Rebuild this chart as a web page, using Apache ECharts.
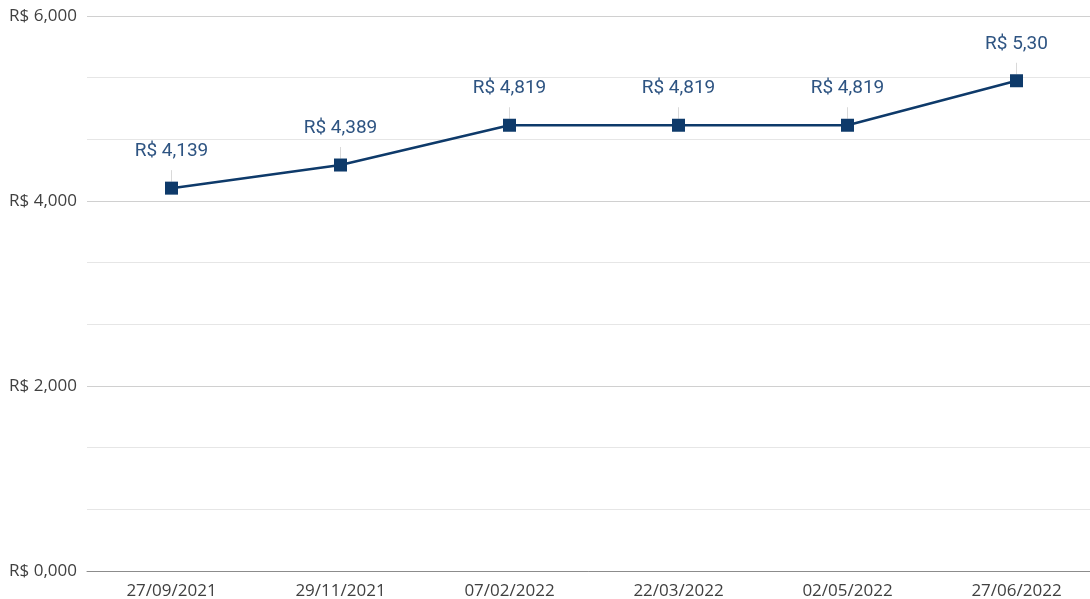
<!DOCTYPE html>
<html>
<head>
<meta charset="utf-8">
<script src="https://cdn.jsdelivr.net/npm/echarts@6/dist/echarts.min.js"></script>
<style>
    html, body { margin: 0; padding: 0; background: #fff; }
    #main { width: 1090px; height: 599px; }
</style>
</head>
<body>
<div id="main"></div>
<script>
// datas
let categories = ['27/09/2021', '29/11/2021', '07/02/2022', '22/03/2022', '02/05/2022', '27/06/2022'];
let prices = [4.139, 4.389, 4.819, 4.819, 4.819, 5.30];
let pointLabels = ['R$ 4,139', 'R$ 4,389', 'R$ 4,819', 'R$ 4,819', 'R$ 4,819', 'R$ 5,30'];

let myChart = echarts.init(document.getElementById("main"));

option = {
    animation: false,
    grid: {
        left: 87,
        width: 1014,
        top: 16,
        bottom: 28,
        outerBoundsMode: 'none'
    },
    xAxis: {
        type: 'category',
        data: categories,
        boundaryGap: true,
        axisLine: { show: true, lineStyle: { color: '#8c8c8c', width: 1 } },
        axisTick: { show: false },
        axisLabel: {
            color: '#404040',
            fontFamily: 'Open Sans',
            fontSize: 17,
            margin: 12
        }
    },
    yAxis: {
        type: 'value',
        min: 0,
        max: 6,
        interval: 2,
        axisLine: { show: false },
        axisTick: { show: false },
        axisLabel: {
            color: '#404040',
            fontFamily: 'Open Sans',
            fontSize: 17,
            margin: 10,
            formatter: function (v) {
                return 'R$ ' + v.toFixed(3).replace('.', ',');
            }
        },
        splitLine: { lineStyle: { color: '#d0d0d0', width: 1 } },
        minorTick: { show: false, splitNumber: 3 },
        minorSplitLine: { show: true, lineStyle: { color: '#e6e6e6', width: 1 } }
    },
    series: [
        {
            type: 'line',
            data: prices,
            symbol: 'rect',
            symbolSize: 13,
            itemStyle: { color: '#0e3a6a' },
            lineStyle: { color: '#0e3a6a', width: 2.5 },
            label: {
                show: true,
                position: 'top',
                distance: 21,
                color: '#2e5482',
                fontFamily: 'Roboto',
                fontSize: 19,
                formatter: function (p) {
                    return pointLabels[p.dataIndex];
                }
            },
            labelLine: {
                show: true,
                lineStyle: { color: '#d9d9d9', width: 1 }
            }
        }
    ]
};
myChart.setOption(option);
</script>
</body>
</html>
